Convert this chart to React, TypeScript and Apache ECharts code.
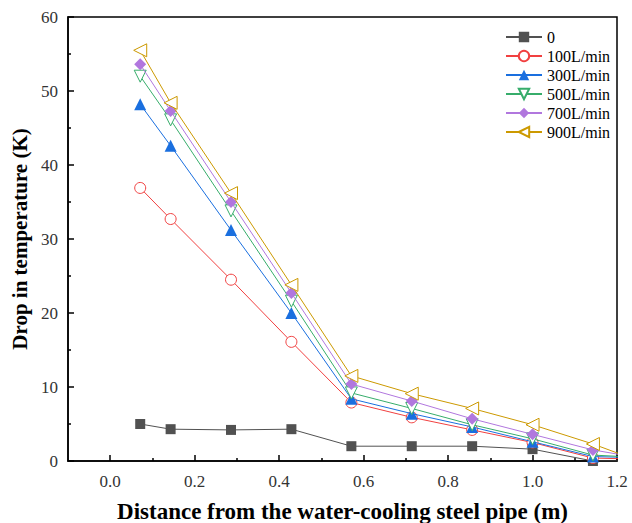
import React, { useEffect, useRef } from "react";
import * as echarts from "echarts";

const xValues = [0.071, 0.143, 0.286, 0.429, 0.571, 0.714, 0.857, 1.0, 1.143, 1.214];
const seriesNames = ["0", "100L/min", "300L/min", "500L/min", "700L/min", "900L/min"];
const s0 = [5.0, 4.3, 4.2, 4.3, 2.0, 2.0, 2.0, 1.6, 0.0, 0.0];
const s100 = [36.9, 32.7, 24.5, 16.1, 7.9, 5.9, 4.2, 2.5, 0.4, 0.3];
const s300 = [48.2, 42.6, 31.2, 20.0, 8.4, 6.4, 4.6, 2.6, 0.6, 0.5];
const s500 = [52.0, 46.1, 33.8, 21.6, 9.2, 7.1, 4.9, 3.0, 0.8, 0.6];
const s700 = [53.6, 47.3, 35.0, 22.7, 10.4, 8.1, 5.7, 3.6, 1.5, 0.8];
const s900 = [55.5, 48.4, 36.2, 23.8, 11.5, 9.1, 7.1, 4.9, 2.3, 0.8];
const xMajorTicks = [0, 0.2, 0.4, 0.6, 0.8, 1.0, 1.2];
const xMinorTicks = [0.1, 0.3, 0.5, 0.7, 0.9, 1.1];

const colors = ["#515151", "#F14040", "#1A6FDF", "#37AD6B", "#B177DE", "#CC9900"];
const symbols = ["rect", "circle", "triangle", "triangle", "diamond", "triangle"];
const rotations = [0, 0, 0, 180, 0, 90];
const filled = [true, false, true, false, true, false];
const sizes = [10, 11, 12, 12, 12, 13];

const FONT = "'Liberation Serif', 'DejaVu Serif', serif";

export default function App() {
  const ref = useRef<HTMLDivElement>(null);
  useEffect(() => {
    if (!ref.current) return;
    const chart = echarts.init(ref.current, null, { renderer: "svg" });
    const all = [s0, s100, s300, s500, s700, s900];
    const series = all.map((vals, i) => ({
      name: seriesNames[i],
      type: "line",
      data: vals.map((v, j) => [xValues[j], v]),
      symbol: symbols[i],
      symbolRotate: rotations[i],
      symbolSize: sizes[i],
      showAllSymbol: true,
      clip: true,
      lineStyle: { color: colors[i], width: 1 },
      itemStyle: filled[i]
        ? { color: colors[i], borderColor: colors[i], borderWidth: 0 }
        : { color: "#ffffff", borderColor: colors[i], borderWidth: 1 },
      z: 2 + i,
    }));
    chart.setOption({
      animation: false,
      backgroundColor: "#ffffff",
      grid: {
        left: 68,
        right: 15,
        top: 17,
        bottom: 62,
        outerBoundsMode: "none",
        containLabel: false,
        show: true,
        borderColor: "#000",
        borderWidth: 1.5,
        backgroundColor: "transparent",
      },
      legend: {
        orient: "vertical",
        left: 500,
        top: 24,
        itemWidth: 36,
        itemHeight: 13,
        itemGap: 3,
        data: seriesNames,
        textStyle: { fontFamily: FONT, fontSize: 16, color: "#000" },
      },
      xAxis: [
        {
          type: "value",
          min: -0.1,
          max: 1.2,
          interval: 0.1,
          name: "Distance from the water-cooling steel pipe (m)",
          nameLocation: "middle",
          nameGap: 39,
          nameTextStyle: { fontFamily: FONT, fontSize: 23, fontWeight: "bold", color: "#000" },
          axisLine: { show: true, onZero: false, lineStyle: { color: "#000", width: 1.5 } },
          axisTick: {
            show: true,
            inside: true,
            length: 6,
            customValues: xMajorTicks,
            lineStyle: { color: "#000", width: 1.5 },
          },
          axisLabel: {
            show: true,
            customValues: xMajorTicks,
            margin: 12,
            fontFamily: FONT,
            fontSize: 17,
            color: "#333",
            formatter: (v: number) => v.toFixed(1),
          },
          splitLine: { show: false },
        },
        {
          type: "value",
          min: -0.1,
          max: 1.2,
          interval: 0.1,
          position: "bottom",
          axisLine: { show: false },
          axisTick: {
            show: true,
            inside: true,
            length: 3,
            customValues: xMinorTicks,
            lineStyle: { color: "#000", width: 1.5 },
          },
          axisLabel: { show: false },
          splitLine: { show: false },
        },
      ],
      yAxis: {
        type: "value",
        min: 0,
        max: 60,
        interval: 10,
        name: "Drop in temperature (K)",
        nameLocation: "middle",
        nameGap: 31,
        nameTextStyle: { fontFamily: FONT, fontSize: 21, fontWeight: "bold", color: "#000" },
        axisLine: { show: true, onZero: false, lineStyle: { color: "#000", width: 1.5 } },
        axisTick: { show: true, inside: true, length: 6, lineStyle: { color: "#000", width: 1.5 } },
        minorTick: { show: true, splitNumber: 2, length: 3, lineStyle: { color: "#000", width: 1.5 } },
        axisLabel: { margin: 10, fontFamily: FONT, fontSize: 17, color: "#333" },
        splitLine: { show: false },
      },
      series,
    });
    return () => chart.dispose();
  }, []);
  return <div ref={ref} style={{ width: 632, height: 523, position: "absolute", left: 0, top: 0 }} />;
}
